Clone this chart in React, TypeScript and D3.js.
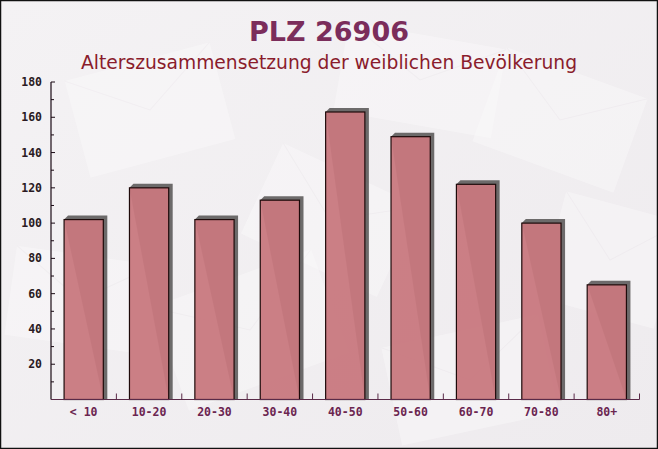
import React from "react";
import * as d3 from "d3";

const categories = ["< 10", "10-20", "20-30", "30-40", "40-50", "50-60", "60-70", "70-80", "80+"];
const values = [102, 120, 102, 113, 163, 149, 122, 100, 65];
const yTicks = [20, 40, 60, 80, 100, 120, 140, 160, 180];
const yMinorTicks = [10, 30, 50, 70, 90, 110, 130, 150, 170];

const W = 658;
const H = 449;

// decorative background envelopes: [cx, cy, w, h, rotation]
const decor: [number, number, number, number, number][] = [
  [150, 110, 150, 100, -15],
  [560, 120, 150, 100, 20],
  [420, 80, 160, 90, 10],
  [80, 300, 140, 90, 8],
  [250, 330, 170, 110, -20],
  [470, 380, 160, 100, -12],
  [610, 260, 120, 110, 15],
  [330, 220, 150, 100, 25],
];

export default function App() {
  const x = d3.scaleBand<string>().domain(categories).range([51, 639.5]).paddingInner(0.4).paddingOuter(0.2);
  const y = d3.scaleLinear().domain([0, 180]).range([399.5, 82]);
  const step = x.step();
  const x0 = 51;
  const bounds = categories.map((_, i) => x0 + step * (i + 1));
  const base = y(0);
  const sd = 4;

  return (
    <svg width={W} height={H} style={{ position: "absolute", left: 0, top: 0 }}>
      <defs>
        <linearGradient id="bg" x1="0" y1="0" x2="1" y2="1">
          <stop offset="0" stopColor="#f4f2f4" />
          <stop offset="1" stopColor="#eeebee" />
        </linearGradient>
      </defs>
      <rect x={0} y={0} width={W} height={H} fill="url(#bg)" />
      {decor.map((d, i) => (
        <g key={i} transform={`translate(${d[0]},${d[1]}) rotate(${d[4]})`} opacity={0.45}>
          <rect x={-d[2] / 2} y={-d[3] / 2} width={d[2]} height={d[3]} fill="#fbfafb" />
          <path d={`M${-d[2] / 2},${-d[3] / 2} L0,0 L${d[2] / 2},${-d[3] / 2}`} fill="none" stroke="#efebef" strokeWidth={1} />
        </g>
      ))}
      <rect x={0.5} y={0.5} width={W - 1} height={H - 1} fill="none" stroke="#111" strokeWidth={1.5} />

      <text x={329} y={41} textAnchor="middle" fontFamily="DejaVu Sans" fontWeight="bold" fontSize={27} fill="#7b2d5b">
        PLZ 26906
      </text>
      <text x={329} y={69} textAnchor="middle" fontFamily="DejaVu Sans" fontSize={18.7} fill="#8a1c2c">
        Alterszusammensetzung der weiblichen Bevölkerung
      </text>

      {categories.map((c, i) => {
        const bx = x(c)!;
        const bw = x.bandwidth();
        const ty = y(values[i]);
        const pts = [
          [bx, ty],
          [bx + sd, ty - sd],
          [bx + bw + sd, ty - sd],
          [bx + bw + sd, base],
          [bx + bw, base],
        ]
          .map((p) => p.join(","))
          .join(" ");
        return (
          <g key={c}>
            <polygon points={pts} fill="#555252" opacity={0.85} />
            <rect x={bx} y={ty} width={bw} height={base - ty} fill="#c8787e" fillOpacity={0.95} stroke="#1e0a0a" strokeWidth={1.2} />
          </g>
        );
      })}

      {/* y axis */}
      <line x1={51} x2={51} y1={y(180)} y2={base} stroke="#1a0a14" strokeWidth={1.2} />
      {yTicks.map((t) => (
        <g key={t}>
          <line x1={51} x2={55} y1={y(t)} y2={y(t)} stroke="#1a0a14" strokeWidth={1} />
          <text x={42} y={y(t) + 4} textAnchor="end" fontFamily="DejaVu Sans Mono" fontWeight="bold" fontSize={11.5} fill="#2a1a22">
            {t}
          </text>
        </g>
      ))}
      {yMinorTicks.map((t) => (
        <line key={t} x1={51} x2={54} y1={y(t)} y2={y(t)} stroke="#1a0a14" strokeWidth={1} />
      ))}

      {/* x axis */}
      <line x1={51} x2={639.5} y1={base} y2={base} stroke="#5a2a48" strokeWidth={1.2} />
      {bounds.map((b, i) => (
        <line key={i} x1={b} x2={b} y1={base} y2={base - 6} stroke="#5a2a48" strokeWidth={1} />
      ))}
      {categories.map((c) => (
        <text key={c} x={x(c)! + x.bandwidth() / 2} y={416} textAnchor="middle" fontFamily="DejaVu Sans Mono" fontWeight="bold" fontSize={11.5} fill="#6b2550">
          {c}
        </text>
      ))}
    </svg>
  );
}
